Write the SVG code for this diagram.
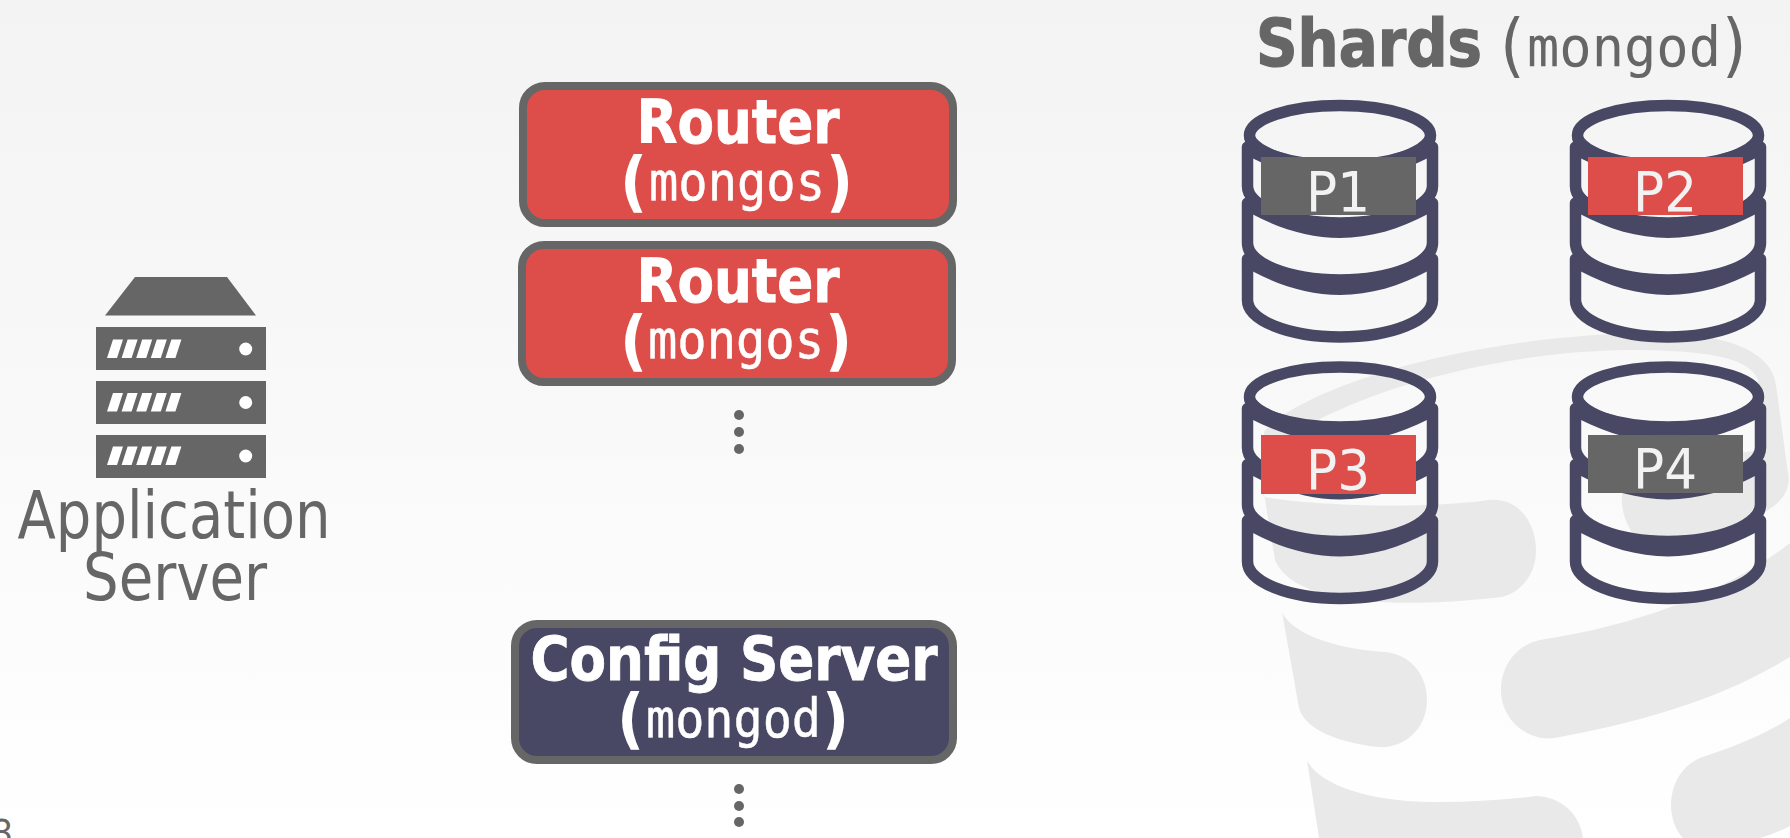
<svg xmlns="http://www.w3.org/2000/svg" width="1790" height="838" viewBox="0 0 1790 838">
<defs>
<linearGradient id="bg" x1="0" y1="0" x2="0" y2="1"><stop offset="0" stop-color="#f3f3f3"/><stop offset="1" stop-color="#ffffff"/></linearGradient>
<g id="slots"><path d="M113,339.500h10l-6,18.500h-10z"/><path d="M127.600,339.500h10l-6,18.500h-10z"/><path d="M142.200,339.500h10l-6,18.500h-10z"/><path d="M156.800,339.500h10l-6,18.500h-10z"/><path d="M171.400,339.500h10l-6,18.500h-10z"/><circle cx="245.700" cy="349" r="6.500"/></g>
<g id="cyl">
<path class="cs" d="M1247.500,147V186A92.500 37 0 0 0 1432.500,186V147"/>
<path class="cs" d="M1247.500,203V243A92.500 37 0 0 0 1432.500,243V203"/>
<path class="cs" d="M1247.500,259V300A92.500 37 0 0 0 1432.500,300V259"/>
<path class="cf" d="M1252,128A88 33 0 0 0 1428,128V158C1400,172 1370,181 1340,181C1310,181 1280,172 1252,158Z"/>
<path class="cf" d="M1252,185A88 33 0 0 0 1428,185V214C1400,229 1370,238 1340,238C1310,238 1280,229 1252,214Z"/>
<path class="cf" d="M1252,242A88 33 0 0 0 1428,242V271C1400,286 1370,295 1340,295C1310,295 1280,286 1252,271Z"/>
<ellipse class="cs" cx="1340" cy="135.500" rx="90.500" ry="30"/>
</g>
</defs>
<style>
.cs{fill:none;stroke:#484865;stroke-width:11.500;stroke-linecap:round}
.cf{fill:#484865}
.wm{fill:#e9e9e9}
.box{stroke:#666;stroke-width:8}
.red{fill:#dd4e4b}
.navy{fill:#484865}
.gray{fill:#666}
.t{font-family:"DejaVu Sans Condensed","DejaVu Sans",sans-serif;text-anchor:middle}
.s{font-family:"DejaVu Sans Condensed","DejaVu Sans",sans-serif}
.b{font-weight:700;fill:#fff;font-size:60px;stroke:#fff;stroke-width:.8px}
.w{fill:#fff}
.m{font-family:"DejaVu Sans Mono",monospace;font-weight:400;font-size:54px;stroke:#fff;stroke-width:.5px}
.mt{font-family:"DejaVu Sans Mono",monospace;font-weight:400;font-size:56px}
.p{font-weight:700;font-size:66px}
.l{fill:#f2f2f2;font-size:56px}
.g{fill:#666}
</style>
<rect width="1790" height="838" fill="url(#bg)"/>
<g id="watermark">
<path class="wm" d="M1264,432C1293,395 1438,340 1634,333C1722,330 1772,350 1776,385L1788,473C1792,492 1778,505 1763,513C1735,527 1690,540 1650,548C1632,540 1620,515 1622,495C1623,480 1635,468 1660,465L1760,450L1758,380C1750,358 1710,350 1624,350C1505,352 1385,385 1318,420L1268,455Z"/>
<path class="wm" d="M1260,470L1264,497C1307,505 1416,510 1489,500C1520,497 1536,525 1536,550C1536,578 1517,597 1493,598C1416,606 1296,610 1275,560Z"/>
<path class="wm" d="M1282,612C1291,632 1329,648 1384,652C1411,654 1427,675 1427,700C1427,728 1405,749 1378,747C1340,743 1305,730 1299,708Z"/>
<path class="wm" d="M1540,640C1640,625 1730,590 1790,543V657C1720,700 1640,722 1555,738C1528,742 1501,720 1501,690C1501,665 1517,645 1540,640Z"/>
<path class="wm" d="M1307,760C1318,785 1373,803 1438,802C1471,802 1504,800 1536,796C1558,796 1580,812 1583,838L1319,838Z"/>
<path class="wm" d="M1700,758C1730,748 1765,735 1790,718V826C1780,831 1770,835 1760,838H1683C1675,830 1671,817 1671,805C1671,783 1683,765 1700,758Z"/>
</g>
<g id="connectors"></g>
<g id="app-server">
<path class="gray" d="M135,277H227L256,315.500H105Z"/>
<rect class="gray" x="96" y="327" width="170" height="43"/>
<rect class="gray" x="96" y="381" width="170" height="43"/>
<rect class="gray" x="96" y="435" width="170" height="43"/>
<use href="#slots" fill="#fff"/>
<use href="#slots" fill="#fff" y="53.500"/>
<use href="#slots" fill="#fff" y="107"/>
<text class="t g" x="174" y="537.500" font-size="65" textLength="313" lengthAdjust="spacingAndGlyphs">Application</text>
<text class="t g" x="175" y="600" font-size="65" textLength="184" lengthAdjust="spacingAndGlyphs">Server</text>
</g>
<g id="router-1">
<rect class="box red" x="523" y="86" width="430" height="137" rx="22"/>
<text class="t b" x="738" y="143" textLength="203" lengthAdjust="spacingAndGlyphs">Router</text>
<text class="s w"><tspan class="p" x="620" y="204">(</tspan><tspan class="m" x="649" y="200" textLength="176" lengthAdjust="spacingAndGlyphs">mongos</tspan><tspan class="p" x="826" y="204">)</tspan></text>
</g>
<g id="router-2">
<rect class="box red" x="522" y="245" width="430" height="137" rx="22"/>
<text class="t b" x="738" y="302" textLength="203" lengthAdjust="spacingAndGlyphs">Router</text>
<text class="s w"><tspan class="p" x="620" y="363">(</tspan><tspan class="m" x="648" y="358" textLength="176" lengthAdjust="spacingAndGlyphs">mongos</tspan><tspan class="p" x="825" y="363">)</tspan></text>
</g>
<g id="router-more" class="gray"><circle cx="739" cy="415" r="5"/><circle cx="739" cy="432" r="5"/><circle cx="739" cy="449" r="5"/></g>
<g id="config-server">
<rect class="box navy" x="515" y="624" width="438" height="136" rx="22"/>
<text class="t b" x="734" y="680" textLength="407" lengthAdjust="spacingAndGlyphs">Config Server</text>
<text class="s w"><tspan class="p" x="617" y="741">(</tspan><tspan class="m" x="646" y="737" textLength="175" lengthAdjust="spacingAndGlyphs">mongod</tspan><tspan class="p" x="822" y="741">)</tspan></text>
</g>
<g id="config-more" class="gray"><circle cx="739" cy="789" r="5"/><circle cx="739" cy="806" r="5"/><circle cx="739" cy="822" r="5"/></g>
<g id="shards-title">
<text class="s g"><tspan font-weight="700" font-size="66" stroke="#666" stroke-width="1.2" x="1256" y="66" textLength="226" lengthAdjust="spacingAndGlyphs">Shards</tspan><tspan font-size="70" x="1500" y="69">(</tspan><tspan class="mt" x="1527" y="66" textLength="194" lengthAdjust="spacingAndGlyphs">mongod</tspan><tspan font-size="70" x="1722" y="69">)</tspan></text>
</g>
<g id="shard-p1"><use href="#cyl"/><rect class="gray" x="1261" y="157" width="155" height="58"/><text class="t l" x="1338" y="211" textLength="64" lengthAdjust="spacingAndGlyphs">P1</text></g>
<g id="shard-p2"><use href="#cyl" x="328"/><rect class="red" x="1588" y="157" width="155" height="58"/><text class="t l" x="1665" y="211" textLength="64" lengthAdjust="spacingAndGlyphs">P2</text></g>
<g id="shard-p3"><use href="#cyl" y="261.500"/><rect class="red" x="1261" y="435" width="155" height="59"/><text class="t l" x="1338" y="489" textLength="64" lengthAdjust="spacingAndGlyphs">P3</text></g>
<g id="shard-p4"><use href="#cyl" x="328" y="261.500"/><rect class="gray" x="1588" y="435" width="155" height="58"/><text class="t l" x="1665" y="488" textLength="64" lengthAdjust="spacingAndGlyphs">P4</text></g>
<text id="page-number" class="s g" x="-8" y="846" font-size="37">3</text>
</svg>
